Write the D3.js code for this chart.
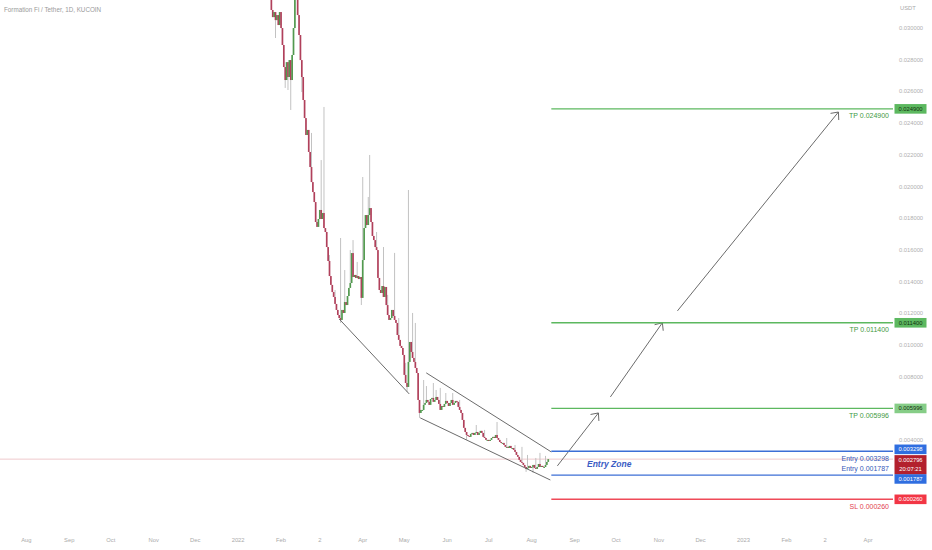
<!DOCTYPE html>
<html><head><meta charset="utf-8">
<script src="https://cdn.jsdelivr.net/npm/d3@7"></script>
<style>
body{margin:0;background:#fff;}
svg{display:block;font-family:"Liberation Sans",Arial,sans-serif;}
</style>
</head><body>
<svg id="c" width="932" height="550"></svg>
<script>
// ---------------- DATA ----------------
const chartTitle = "Formation Fi / Tether, 1D, KUCOIN";
const currency = "USDT";
const candleStart = "2022-01-23";          // first daily candle
const firstOpen = 0.0352;
const closes = [
0.03429,0.03303,0.03114,0.03069,0.03101,0.03050,0.03082,0.03019,0.03101,0.03000,
0.02893,0.02754,0.02672,0.02785,0.02691,0.02798,0.02672,0.02830,0.03000,0.03177,
0.03240,0.03082,0.02956,0.02798,0.02691,0.02546,0.02432,0.02325,0.02357,0.02218,
0.02123,0.02028,0.01965,0.01902,0.01776,0.01745,0.01795,0.01852,0.01795,0.01833,
0.01738,0.01713,0.01618,0.01530,0.01435,0.01379,0.01334,0.01303,0.01259,0.01221,
0.01189,0.01170,0.01158,0.01221,0.01202,0.01271,0.01252,0.01309,0.01360,0.01391,
0.01580,0.01429,0.01442,0.01423,0.01435,0.01416,0.01429,0.01297,0.01536,0.01738,
0.01820,0.01757,0.01820,0.01864,0.01776,0.01688,0.01662,0.01618,0.01599,0.01423,
0.01347,0.01328,0.01372,0.01303,0.01366,0.01252,0.01189,0.01158,0.01170,0.01221,
0.01183,0.01158,0.01139,0.01063,0.01032,0.00994,0.00981,0.00937,0.00811,0.00760,
0.00735,0.00893,0.01019,0.00956,0.00918,0.00893,0.00855,0.00823,0.00653,0.00571,
0.00590,0.00590,0.00622,0.00634,0.00653,0.00641,0.00622,0.00659,0.00666,0.00641,
0.00653,0.00672,0.00653,0.00628,0.00590,0.00615,0.00609,0.00628,0.00647,0.00634,
0.00615,0.00634,0.00653,0.00622,0.00634,0.00647,0.00641,0.00609,0.00590,0.00571,
0.00527,0.00477,0.00451,0.00432,0.00426,0.00420,0.00439,0.00445,0.00432,0.00445,
0.00451,0.00432,0.00445,0.00458,0.00445,0.00420,0.00413,0.00401,0.00401,0.00394,
0.00401,0.00413,0.00420,0.00413,0.00432,0.00413,0.00401,0.00388,0.00382,0.00382,
0.00369,0.00357,0.00357,0.00350,0.00363,0.00350,0.00350,0.00338,0.00325,0.00306,
0.00294,0.00275,0.00262,0.00256,0.00243,0.00230,0.00218,0.00224,0.00237,0.00224,
0.00230,0.00243,0.00224,0.00218,0.00230,0.00249,0.00230,0.00237,0.00230,0.00230,
0.00243,0.00262,0.002796
];
// visible upper wicks (date, high)
const wickHighs = [
["2022-02-23",0.02338],["2022-03-02",0.02167],["2022-03-04",0.02502],["2022-03-08",0.01568],
["2022-03-12",0.01347],["2022-03-16",0.01675],["2022-03-19",0.01473],["2022-03-23",0.01599],
["2022-03-25",0.01662],["2022-03-28",0.01524],["2022-04-01",0.02060],["2022-04-05",0.01934],
["2022-04-06",0.02199],["2022-04-11",0.01713],["2022-04-16",0.01618],["2022-04-19",0.01316],
["2022-04-24",0.01581],["2022-04-27",0.01170],["2022-05-02",0.00887],["2022-05-04",0.01978],
["2022-05-07",0.01202],["2022-05-09",0.01139],["2022-05-15",0.00779],["2022-05-17",0.00741],
["2022-05-22",0.00760],["2022-05-24",0.00716],["2022-05-27",0.00729],["2022-05-31",0.00697],
["2022-06-05",0.00697],["2022-06-10",0.00653],["2022-06-22",0.00495],["2022-06-28",0.00464],
["2022-07-07",0.00514],["2022-07-14",0.00413],["2022-07-20",0.00369],["2022-07-25",0.00357],
["2022-07-29",0.00306],["2022-08-04",0.00287],["2022-08-07",0.00319],["2022-08-11",0.00300]
];
// visible lower wicks (date, low)
const wickLows = [
["2022-01-28",0.02937],["2022-02-04",0.02622],["2022-02-06",0.02609],["2022-02-08",0.02483],
["2022-02-16",0.02596],["2022-03-16",0.01139],["2022-03-31",0.01252],["2022-05-03",0.00703],
["2022-05-12",0.00540],["2022-06-15",0.00401],["2022-07-28",0.00199],["2022-08-02",0.00193]
];
// horizontal trade levels
const levelNames  = ["TP","TP","TP","Entry","Entry","SL"];
const levelValues = [0.024900,0.011400,0.005996,0.003298,0.001787,0.000260];
const levelKinds  = ["tp","tp","tp","entry","entry","sl"];
const levelStart  = "2022-08-15T05:00";
const zoneLabel   = "Entry Zone";
const zoneDate    = "2022-09-26T00:00";
// falling wedge trend lines: [[date, price],[date, price]]
const trendLines = [
  [["2022-03-15T00:00",0.01164],["2022-05-04T14:00",0.00691]],
  [["2022-05-16T21:00",0.00824],["2022-08-15T05:00",0.00325]],
  [["2022-05-12T12:00",0.00540],["2022-08-14T12:00",0.00148]]
];
// projection arrows
const arrows = [
  [["2022-08-19T14:00",0.00237],["2022-09-18T05:00",0.00571]],
  [["2022-09-26T21:00",0.00672],["2022-11-03T10:00",0.01140]],
  [["2022-11-14T07:00",0.01215],["2023-03-10T14:00",0.02470]]
];
const lastPrice = 0.002796;
const countdown = "20:07:21";
const priceTicks = [0.030,0.028,0.026,0.024,0.022,0.020,0.018,0.016,0.014,0.012,0.010,0.008,0.004];
const timeTicks = [
["2021-08-01","Aug"],["2021-09-01","Sep"],["2021-10-01","Oct"],["2021-11-01","Nov"],["2021-12-01","Dec"],
["2022-01-01","2022"],["2022-02-01","Feb"],["2022-03-01","2"],["2022-04-01","Apr"],["2022-05-01","May"],
["2022-06-01","Jun"],["2022-07-01","Jul"],["2022-08-01","Aug"],["2022-09-01","Sep"],["2022-10-01","Oct"],
["2022-11-01","Nov"],["2022-12-01","Dec"],["2023-01-01","2023"],["2023-02-01","Feb"],["2023-03-01","2"],
["2023-04-01","Apr"]
];

// ---------------- RENDER ----------------
const parse = s => s.length > 10 ? d3.utcParse("%Y-%m-%dT%H:%M")(s) : d3.utcParse("%Y-%m-%d")(s);
const svg = d3.select("#c");
const plotRight = 893, plotBottom = 528;
const x = d3.scaleUtc().domain([parse("2021-07-13"), parse("2023-04-19")]).range([0, plotRight]);
const y = d3.scaleLinear().domain([-0.00155, 0.03177]).range([plotBottom, 0]);

svg.append("defs").append("clipPath").attr("id","plot")
  .append("rect").attr("x",0).attr("y",0).attr("width",plotRight).attr("height",plotBottom);

const start = parse(candleStart);
const candles = closes.map((c,i)=>({
  date: d3.utcDay.offset(start,i),
  open: i===0 ? firstOpen : closes[i-1],
  close: c
}));
const key = d => d3.utcFormat("%Y-%m-%d")(d);
const hiMap = new Map(wickHighs), loMap = new Map(wickLows);
candles.forEach(d=>{ d.high = hiMap.get(key(d.date)); d.low = loMap.get(key(d.date)); });

// current price line
svg.append("line").attr("x1",0).attr("x2",plotRight)
  .attr("y1",y(lastPrice)).attr("y2",y(lastPrice))
  .attr("stroke","#efc9cc").attr("stroke-width",1);

const g = svg.append("g").attr("clip-path","url(#plot)");
// wicks
candles.forEach(d=>{
  const top = Math.max(d.open,d.close), bot = Math.min(d.open,d.close);
  const cx = x(d.date);
  if (d.high !== undefined) g.append("line").attr("x1",cx).attr("x2",cx)
     .attr("y1",y(d.high)).attr("y2",y(top)).attr("stroke","#c2c2c2").attr("stroke-width",1);
  if (d.low !== undefined) g.append("line").attr("x1",cx).attr("x2",cx)
     .attr("y1",y(bot)).attr("y2",y(d.low)).attr("stroke","#c2c2c2").attr("stroke-width",1);
});
// bodies
g.selectAll("rect.body").data(candles).join("rect").attr("class","body")
  .attr("x", d=>x(d.date)-0.85).attr("width",1.7)
  .attr("y", d=>y(Math.max(d.open,d.close)))
  .attr("height", d=>Math.max(1, Math.abs(y(d.open)-y(d.close))))
  .attr("fill", d=> d.close>=d.open ? "#52994f" : "#b0405b");

// trend lines
const lineCol = "#5a5a5a";
trendLines.forEach(l=>{
  svg.append("line").attr("x1",x(parse(l[0][0]))).attr("y1",y(l[0][1]))
    .attr("x2",x(parse(l[1][0]))).attr("y2",y(l[1][1]))
    .attr("stroke",lineCol).attr("stroke-width",0.9);
});
// arrows
arrows.forEach(a=>{
  const x1=x(parse(a[0][0])), y1=y(a[0][1]), x2=x(parse(a[1][0])), y2=y(a[1][1]);
  svg.append("line").attr("x1",x1).attr("y1",y1).attr("x2",x2).attr("y2",y2)
    .attr("stroke",lineCol).attr("stroke-width",0.9);
  const ang = Math.atan2(y1-y2, x1-x2), L=8, th=0.72;
  svg.append("path").attr("fill","none").attr("stroke",lineCol).attr("stroke-width",0.9)
    .attr("d",`M${x2+L*Math.cos(ang+th)},${y2+L*Math.sin(ang+th)}L${x2},${y2}L${x2+L*Math.cos(ang-th)},${y2+L*Math.sin(ang-th)}`);
});

// levels
const kindStyle = {
  tp:{line:"#5cb85f", text:"#3f9a43"},
  entry:{line:"#3c6fd6", text:"#3558b8"},
  sl:{line:"#ef4a58", text:"#e2414f"}
};
const lx0 = x(parse(levelStart));
const entryVals = levelValues.filter((w,j)=>levelKinds[j]==="entry");
levelValues.forEach((v,i)=>{
  const st = kindStyle[levelKinds[i]];
  svg.append("line").attr("x1",lx0).attr("x2",plotRight).attr("y1",y(v)).attr("y2",y(v))
    .attr("stroke",st.line).attr("stroke-width",1.4);
  const above = (levelKinds[i]==="entry" && v===d3.min(entryVals));
  svg.append("text").attr("x",889).attr("y", y(v) + (above ? -4.5 : 9.5))
    .attr("text-anchor","end").attr("font-size",7).attr("fill",st.text)
    .text(`${levelNames[i]} ${d3.format(".6f")(v)}`);
});
// entry zone label
svg.append("text").attr("x",x(parse(zoneDate))).attr("y",(y(entryVals[0])+y(entryVals[1]))/2+3.5)
  .attr("text-anchor","middle").attr("font-size",8.5).attr("font-style","italic").attr("font-weight","bold")
  .attr("fill","#3a5cc4").text(zoneLabel);

// title
svg.append("text").attr("x",4).attr("y",12).attr("font-size",6.3).attr("fill","#9a9a9a").text(chartTitle);

// price axis
svg.append("text").attr("x",900).attr("y",10).attr("font-size",5.8).attr("fill","#aaaaaa").text(currency);
svg.selectAll("text.pt").data(priceTicks).join("text").attr("class","pt")
  .attr("x",911).attr("y",d=>y(d)+2).attr("text-anchor","middle").attr("font-size",5.8)
  .attr("fill","#b0b0b0").text(d=>d3.format(".6f")(d));

// time axis
svg.selectAll("text.tt").data(timeTicks).join("text").attr("class","tt")
  .attr("x",d=>x(parse(d[0]))).attr("y",542).attr("text-anchor","middle").attr("font-size",5.8)
  .attr("fill","#aaaaaa").text(d=>d[1]);

// axis value boxes (with simple collision avoidance around the last-price box)
const boxH = 9.6, lastTop = y(lastPrice) - 4, lastH = 19;
const boxCol = {tp:["#5cb85f","#5cb85f","#86cd87"], entry:"#2f6ee0", sl:"#f23645"};
let tpIdx = 0;
levelValues.forEach((v,i)=>{
  const k = levelKinds[i];
  const bg = k==="tp" ? boxCol.tp[tpIdx++] : boxCol[k];
  const fg = k==="tp" ? "#12300f" : "#ffffff";
  let top = y(v) - boxH/2;
  if (top < lastTop + lastH && top + boxH > lastTop) {
    top = (y(v) < y(lastPrice)) ? lastTop - boxH - 1 : lastTop + lastH;
  }
  svg.append("rect").attr("x",894.5).attr("y",top).attr("width",32).attr("height",boxH).attr("fill",bg);
  svg.append("text").attr("x",910.5).attr("y",top + boxH/2 + 2).attr("text-anchor","middle").attr("font-size",5.8)
    .attr("fill",fg).text(d3.format(".6f")(v));
});
// last price box
svg.append("rect").attr("x",894.5).attr("y",lastTop).attr("width",32).attr("height",lastH).attr("fill","#b3202d");
svg.append("text").attr("x",910.5).attr("y",lastTop+7).attr("text-anchor","middle").attr("font-size",5.8)
  .attr("fill","#fff").text(d3.format(".6f")(lastPrice));
svg.append("text").attr("x",910.5).attr("y",lastTop+15.5).attr("text-anchor","middle").attr("font-size",5.8)
  .attr("fill","#fff").text(countdown);
</script>
</body></html>
